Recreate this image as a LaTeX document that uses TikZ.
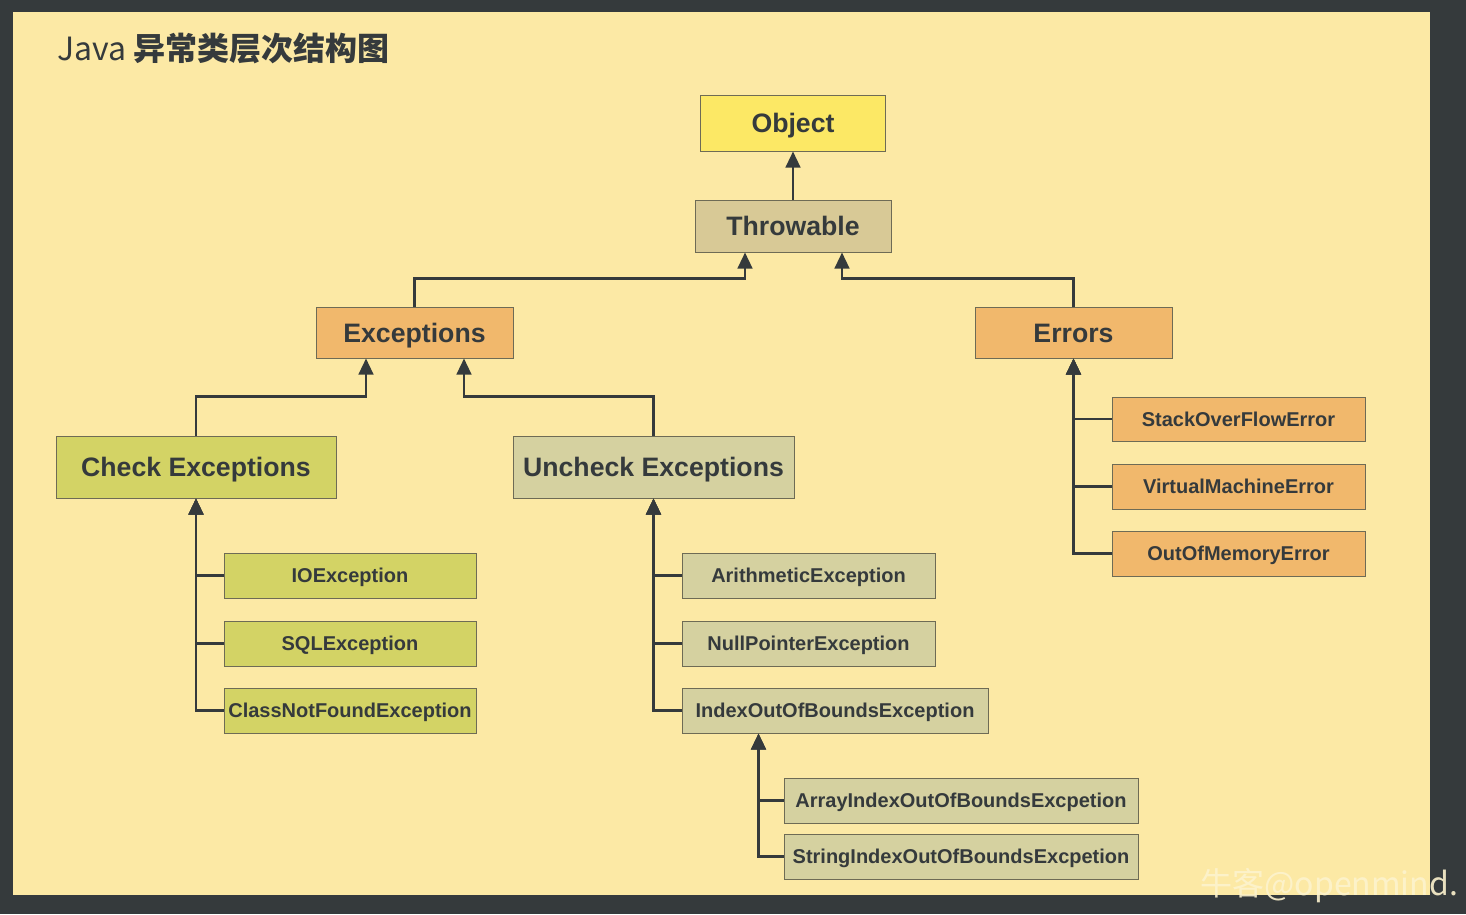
\documentclass[tikz,border=0pt]{standalone}
\usepackage{fontspec}
\setmainfont{Liberation Sans}
\newfontfamily\cjk{Noto Sans CJK SC}
\usetikzlibrary{arrows.meta}

\definecolor{frameGray}{HTML}{353A3C}
\definecolor{paper}{HTML}{FCE9A5}
\definecolor{inkGray}{HTML}{353A3C}
\definecolor{edgeGray}{HTML}{6E6B55}
\definecolor{objYellow}{HTML}{FCE865}
\definecolor{thrTan}{HTML}{D8C996}
\definecolor{excOrange}{HTML}{F1B86C}
\definecolor{chkGreen}{HTML}{D3D365}
\definecolor{uncKhaki}{HTML}{D5D1A0}

\tikzset{every picture/.style={line width=0.75pt},
  cls/.style={draw=edgeGray, line width=0.75pt, inner sep=0pt, text=inkGray, text depth=0pt},
  bigcls/.style={cls, font=\fontsize{20}{24}\selectfont\bfseries, text height=14.4pt},
  smallcls/.style={cls, font=\fontsize{15}{18}\selectfont\bfseries, text height=10.8pt},
  link/.style={draw=inkGray, line width=1.7pt, -{Triangle[length=12pt,width=11pt]}}
}

\begin{document}
\begin{tikzpicture}[x=0.75pt,y=0.75pt,yscale=-1,xscale=1]
\useasboundingbox (0,0) rectangle (1466,914);
\fill[frameGray] (0,0) rectangle (1466,914);
\fill[paper] (13,12) rectangle (1430,895);

% Title
\node (title) [anchor=west, inner sep=0pt, text=inkGray] at (57,48)
  {\cjk\fontsize{24}{28}\selectfont Java \bfseries 异常类层次结构图};

% Top of the tree
\node (obj) [bigcls, fill=objYellow, minimum width=185*0.75pt, minimum height=56*0.75pt] at (793,123) {Object};
\node (thr) [bigcls, fill=thrTan, minimum width=196*0.75pt, minimum height=52*0.75pt] at (793,226) {Throwable};
\node (exc) [bigcls, fill=excOrange, minimum width=197*0.75pt, minimum height=51*0.75pt] at (414.5,332.5) {Exceptions};
\node (err) [bigcls, fill=excOrange, minimum width=197*0.75pt, minimum height=51*0.75pt] at (1073.5,332.5) {Errors};
\node (chk) [bigcls, fill=chkGreen, minimum width=280*0.75pt, minimum height=62*0.75pt] at (196,467) {Check Exceptions};
\node (unc) [bigcls, fill=uncKhaki, minimum width=281*0.75pt, minimum height=62*0.75pt] at (653.5,467) {Uncheck Exceptions};

% Checked branch
\node (io) [smallcls, fill=chkGreen, minimum width=252*0.75pt, minimum height=45*0.75pt] at (350,575.5) {IOException};
\node (sql) [smallcls, fill=chkGreen, minimum width=252*0.75pt, minimum height=45*0.75pt] at (350,643.5) {SQLException};
\node (cnf) [smallcls, fill=chkGreen, minimum width=252*0.75pt, minimum height=45*0.75pt] at (350,710.5) {ClassNotFoundException};

% Unchecked branch
\node (ari) [smallcls, fill=uncKhaki, minimum width=253*0.75pt, minimum height=45*0.75pt] at (808.5,575.5) {ArithmeticException};
\node (npe) [smallcls, fill=uncKhaki, minimum width=253*0.75pt, minimum height=45*0.75pt] at (808.5,643.5) {NullPointerException};
\node (ioob) [smallcls, fill=uncKhaki, minimum width=306*0.75pt, minimum height=45*0.75pt] at (835,710.5) {IndexOutOfBoundsException};
\node (aioob) [smallcls, fill=uncKhaki, minimum width=354*0.75pt, minimum height=45*0.75pt] at (961,800.5) {ArrayIndexOutOfBoundsExcpetion};
\node (sioob) [smallcls, fill=uncKhaki, minimum width=354*0.75pt, minimum height=45*0.75pt] at (961,856.5) {StringIndexOutOfBoundsExcpetion};

% Error branch
\node (so) [smallcls, fill=excOrange, minimum width=253*0.75pt, minimum height=44*0.75pt] at (1238.5,419) {StackOverFlowError};
\node (vm) [smallcls, fill=excOrange, minimum width=253*0.75pt, minimum height=45*0.75pt] at (1238.5,486.5) {VirtualMachineError};
\node (oom) [smallcls, fill=excOrange, minimum width=253*0.75pt, minimum height=45*0.75pt] at (1238.5,553.5) {OutOfMemoryError};

%Straight Lines
\draw[link] (thr.north) -- (obj.south);
\draw[link] (exc.north) -- ++(0,-28) -| ([shift={(-48,0)}]thr.south);
\draw[link] (err.north) -- ++(0,-28) -| ([shift={(49,0)}]thr.south);
\draw[link] (chk.north) -- ++(0,-39) -| ([shift={(-48.5,0)}]exc.south);
\draw[link] (unc.north) -- ++(0,-39) -| ([shift={(49.5,0)}]exc.south);

%Elbow Lines
\foreach \kid in {io,sql,cnf} \draw[link] (\kid.west) -| (chk.south);
\foreach \kid in {ari,npe,ioob} \draw[link] (\kid.west) -| (unc.south);
\foreach \kid in {aioob,sioob} \draw[link] (\kid.west) -| ([shift={(77,0)}]ioob.south west);
\foreach \kid in {so,vm,oom} \draw[link] (\kid.west) -| (err.south);

% Watermark
\node (mark) [anchor=west, inner sep=0pt, text=paper!55!white, opacity=0.9] at (1200,886)
  {\cjk\fontsize{24}{28}\selectfont 牛客@openmind.};

\end{tikzpicture}
\end{document}
